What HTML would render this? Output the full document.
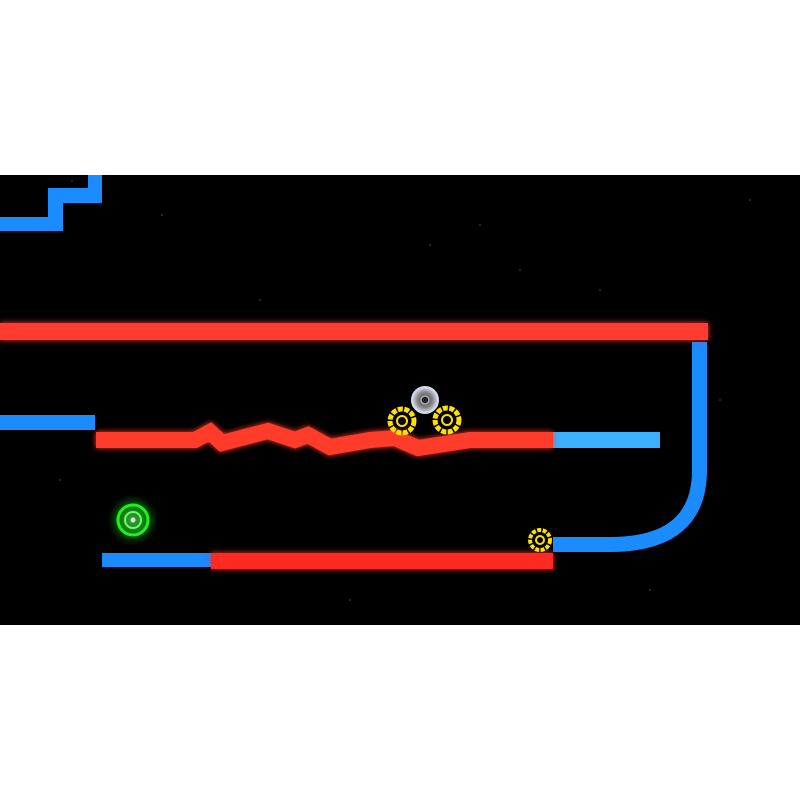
<!DOCTYPE html>
<html><head><style>
html,body{margin:0;padding:0;background:#fff;width:800px;height:800px;overflow:hidden}
</style></head><body>
<svg width="800" height="800" viewBox="0 0 800 800" xmlns="http://www.w3.org/2000/svg">
<defs>
<filter id="glow" x="-20%" y="-50%" width="140%" height="200%">
<feGaussianBlur stdDeviation="3" result="b"/>
<feMerge><feMergeNode in="b"/><feMergeNode in="SourceGraphic"/></feMerge>
</filter>
<radialGradient id="gr"><stop offset="0" stop-color="#7f7"/><stop offset="0.5" stop-color="#1c1"/><stop offset="1" stop-color="#050" stop-opacity="0"/></radialGradient>
<radialGradient id="sv"><stop offset="0" stop-color="#333"/><stop offset="0.6" stop-color="#888"/><stop offset="1" stop-color="#dde"/></radialGradient>
</defs>
<rect x="0" y="175" width="800" height="450" fill="#000"/>
<g fill="#889" opacity="0.6">
<circle cx="72" cy="181" r="0.8"/><circle cx="162" cy="215" r="0.8"/><circle cx="480" cy="225" r="0.8"/><circle cx="430" cy="245" r="0.8"/><circle cx="600" cy="290" r="0.8"/><circle cx="260" cy="300" r="0.8"/><circle cx="720" cy="400" r="0.8"/><circle cx="60" cy="480" r="0.8"/><circle cx="350" cy="600" r="0.8"/><circle cx="650" cy="590" r="0.8"/><circle cx="520" cy="270" r="0.8"/><circle cx="750" cy="200" r="0.8"/>
</g>
<g fill="#1a8cff">
<rect x="88" y="175" width="14" height="28"/>
<rect x="48" y="188" width="54" height="15"/>
<rect x="48" y="188" width="15" height="43"/>
<rect x="0" y="217" width="63" height="14"/>
<rect x="0" y="415" width="95" height="15"/>
<rect x="102" y="553" width="109" height="14"/>
</g>
<rect x="553" y="432" width="107" height="16" fill="#3ab0ff"/>
<path d="M699.5 342 V470 Q699.5 544.5 610 544.5 H553" fill="none" stroke="#1a8cff" stroke-width="15"/>
<g filter="url(#glow)">
<rect x="0" y="323" width="708" height="17" fill="#ff3a30"/>
<rect x="211" y="553" width="342" height="16" fill="#ff2a20"/>
<polyline points="96,440 195,440 210,432 222,443 268,431 295,440 308,435 330,447 370,440 395,438 418,448 470,440 553,440" fill="none" stroke="#ff3a2a" stroke-width="16" stroke-linejoin="miter"/>
</g>
<circle cx="425" cy="400" r="13" fill="url(#sv)" stroke="#cde" stroke-width="2"/>
<circle cx="425" cy="400" r="4" fill="#222" stroke="#aaa" stroke-width="1.5"/>
<g fill="none" stroke="#ffe000">
<circle cx="402" cy="421" r="12" stroke-width="5" stroke-dasharray="5 1.5"/>
<circle cx="402" cy="421" r="5" stroke-width="2"/>
<circle cx="447" cy="420" r="12" stroke-width="5" stroke-dasharray="5 1.5"/>
<circle cx="447" cy="420" r="5" stroke-width="2"/>
<circle cx="540" cy="540" r="10" stroke-width="4" stroke-dasharray="4 1.5"/>
<circle cx="540" cy="540" r="4" stroke-width="2"/>
</g>
<circle cx="133" cy="520" r="26" fill="url(#gr)" opacity="0.6"/>
<circle cx="133" cy="520" r="15" fill="none" stroke="#2e2" stroke-width="3"/>
<circle cx="133" cy="520" r="8" fill="none" stroke="#6f6" stroke-width="2"/>
<circle cx="133" cy="520" r="2.5" fill="#bfb"/>
</svg>
</body></html>
